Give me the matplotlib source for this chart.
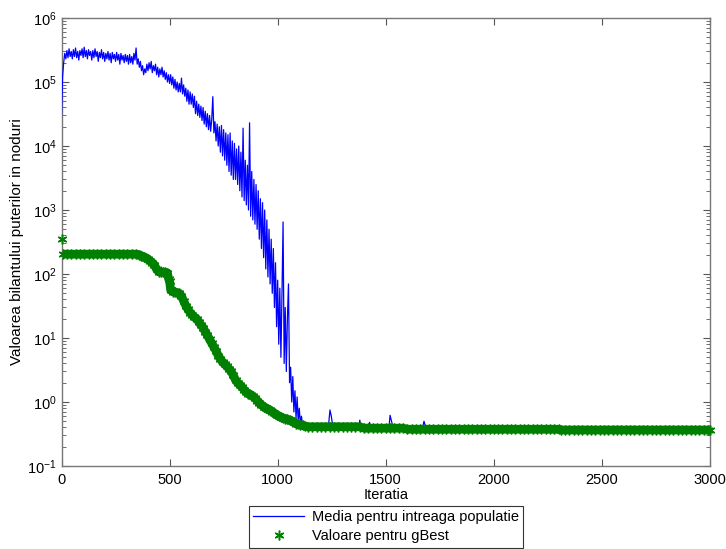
import matplotlib
matplotlib.use("Agg")
import matplotlib.pyplot as plt
from matplotlib.ticker import LogLocator, NullFormatter

plt.rcParams['font.family'] = ['Liberation Sans', 'DejaVu Sans']
plt.rcParams['font.size'] = 10

# Population mean of the power balance, sampled every 5 iterations up to 1125
media_iter = list(range(0, 1130, 5)) + [
    1140, 1200, 1235, 1242, 1248, 1255, 1300, 1375, 1380, 1385, 1420, 1425, 1430,
    1515, 1520, 1530, 1540, 1670, 1677, 1685, 2000, 2500, 3000]
media_val = [
    3.0e4, 1.2e5, 2.0e5, 2.8e5, 2.3e5, 3.1e5, 2.4e5, 3.3e5, 2.5e5, 3.0e5,
    2.3e5, 3.2e5, 2.5e5, 3.4e5, 2.4e5, 3.0e5, 2.2e5, 3.1e5, 2.6e5, 3.3e5,
    2.4e5, 3.5e5, 2.5e5, 3.1e5, 2.3e5, 3.2e5, 2.6e5, 3.0e5, 2.2e5, 3.1e5,
    2.4e5, 3.3e5, 2.5e5, 3.0e5, 2.1e5, 2.9e5, 2.4e5, 3.2e5, 2.3e5, 2.9e5,
    2.1e5, 2.8e5, 2.3e5, 3.0e5, 2.2e5, 2.8e5, 2.0e5, 2.9e5, 2.3e5, 2.7e5,
    2.1e5, 2.9e5, 2.2e5, 2.7e5, 1.9e5, 2.8e5, 2.2e5, 2.6e5, 2.0e5, 2.7e5,
    2.1e5, 2.6e5, 1.9e5, 2.7e5, 2.0e5, 2.5e5, 1.9e5, 2.8e5, 2.2e5, 3.4e5,
    1.9e5, 2.3e5, 1.7e5, 2.1e5, 1.5e5, 1.8e5, 1.3e5, 1.6e5, 1.4e5, 1.9e5,
    1.5e5, 2.0e5, 1.6e5, 2.1e5, 1.4e5, 1.8e5, 1.5e5, 1.9e5, 1.3e5, 1.7e5,
    1.2e5, 1.6e5, 1.3e5, 1.7e5, 1.2e5, 1.5e5, 1.1e5, 1.4e5, 1.0e5, 1.3e5,
    9.5e4, 1.3e5, 9.0e4, 1.2e5, 8.0e4, 1.1e5, 7.5e4, 1.0e5, 7.0e4, 9.5e4,
    7.0e4, 1.15e5, 6.5e4, 9.0e4, 6.0e4, 8.0e4, 5.0e4, 7.5e4, 4.5e4, 7.0e4,
    4.5e4, 6.5e4, 4.0e4, 6.0e4, 3.2e4, 5.0e4, 3.0e4, 4.5e4, 2.8e4, 4.2e4,
    2.5e4, 4.0e4, 2.2e4, 3.5e4, 2.0e4, 3.2e4, 1.8e4, 3.0e4, 1.7e4, 2.6e4,
    5.9e4, 1.6e4, 2.4e4, 1.2e4, 2.2e4, 1.0e4, 2.0e4, 8.0e3, 2.1e4, 7.0e3,
    1.8e4, 6.0e3, 1.6e4, 5.0e3, 1.5e4, 4.0e3, 1.6e4, 3.5e3, 1.2e4, 3.0e3,
    1.1e4, 3.0e3, 9.0e3, 2.5e3, 1.0e4, 2.0e3, 8.0e3, 1.6e3, 1.9e4, 1.4e3,
    6.0e3, 1.2e3, 5.0e3, 1.0e3, 2.3e4, 8.0e2, 4.0e3, 7.0e2, 3.0e3, 6.0e2,
    2.5e3, 5.0e2, 2.0e3, 3.5e2, 1.5e3, 2.5e2, 1.3e3, 1.8e2, 1.0e3, 1.2e2,
    7.0e2, 9.0e1, 5.0e2, 7.0e1, 3.5e2, 5.0e1, 2.5e2, 3.0e1, 1.5e2, 1.5e1,
    8.0e1, 8.0, 6.0e1, 5.0, 5.0e1, 6.5e2, 4.0, 3.0e1, 3.0, 2.0e1,
    7.0e1, 2.0, 3.5, 1.0, 2.5, 0.7, 1.5, 0.55, 1.2, 0.5,
    0.8, 0.46, 0.6, 0.44, 0.5, 0.43,
    0.42, 0.42, 0.42, 0.75, 0.6, 0.42, 0.41, 0.41, 0.52, 0.41, 0.41, 0.48, 0.41,
    0.40, 0.62, 0.45, 0.40, 0.40, 0.50, 0.40, 0.39, 0.385, 0.385]

# Best value found so far (gBest) per iteration
gbest_iter = [0, 8, 25, 45, 65, 85, 105, 125, 145, 165, 185, 205, 225, 245, 265, 285, 305,
              325, 345, 360, 370, 380, 390, 400, 410, 420, 430, 440, 450, 460, 470, 480,
              490, 495, 500, 505, 515, 525, 535, 545, 555, 565, 575, 585, 595, 605, 615,
              625, 635, 645, 655, 665, 675, 685, 695, 705, 715, 725, 735, 745, 755, 765,
              775, 785, 795, 805, 815, 825, 835, 845, 855, 865, 875, 885, 895, 905, 915,
              925, 935, 945, 955, 965, 975, 985, 995, 1005, 1015, 1025, 1035, 1045, 1055,
              1065, 1075, 1085, 1095, 1105, 1115, 1125, 1140,
              1160, 1180, 1200, 1220, 1240, 1260, 1280, 1300, 1320, 1340, 1360, 1380,
              1400, 1420, 1440, 1460, 1480, 1500, 1520, 1540, 1560, 1580,
              1600, 1620, 1640, 1660, 1680, 1700, 1720, 1740, 1760, 1780, 1800, 1820,
              1840, 1860, 1880, 1900, 1920, 1940, 1960, 1980, 2000, 2020, 2040, 2060,
              2080, 2100, 2120, 2140, 2160, 2180, 2200, 2220, 2240, 2260, 2280, 2300,
              2310, 2330, 2350, 2370, 2390, 2410, 2430, 2450, 2470, 2490, 2510, 2530,
              2550, 2570, 2590, 2610, 2630, 2650, 2670, 2690, 2710, 2730, 2750, 2770,
              2790, 2810, 2830, 2850, 2870, 2890, 2910, 2930, 2950, 2970, 2990, 3000]
gbest_val = [350, 204, 204, 204, 204, 204, 204, 204, 204, 204, 204, 204, 204, 204, 204,
             204, 204, 204, 204, 200, 192, 186, 178, 170, 160, 150, 138, 118, 108, 107,
             107, 106, 104, 85, 78, 56, 53, 52, 51, 50, 45, 38, 32, 28, 25, 23, 21, 20,
             18, 16, 14.5, 12.5, 11, 9.5, 8.3, 7.2, 6.3, 5.3, 4.7, 4.2, 3.9, 3.6, 3.3,
             3.0, 2.6, 2.2, 2.0, 1.85, 1.7, 1.55, 1.42, 1.35, 1.3, 1.22, 1.15, 1.05, 0.97,
             0.9, 0.85, 0.8, 0.77, 0.74, 0.71, 0.67, 0.63, 0.6, 0.58, 0.56, 0.55, 0.54,
             0.52, 0.5, 0.48, 0.46, 0.45, 0.44, 0.43, 0.42, 0.41,
             0.41, 0.41, 0.41, 0.41, 0.41, 0.41, 0.41, 0.41, 0.41, 0.41, 0.41, 0.41,
             0.39, 0.39, 0.39, 0.39, 0.39, 0.39, 0.39, 0.39, 0.39, 0.39,
             0.375, 0.375, 0.375, 0.375, 0.375, 0.375, 0.375, 0.375, 0.375, 0.375, 0.375,
             0.375, 0.375, 0.375, 0.375, 0.375, 0.375, 0.375, 0.375, 0.375, 0.375, 0.375,
             0.375, 0.375, 0.375, 0.375, 0.375, 0.375, 0.375, 0.375, 0.375, 0.375, 0.375,
             0.375, 0.375, 0.375,
             0.365, 0.365, 0.365, 0.365, 0.365, 0.365, 0.365, 0.365, 0.365, 0.365, 0.365,
             0.365, 0.365, 0.365, 0.365, 0.365, 0.365, 0.365, 0.365, 0.365, 0.365, 0.365,
             0.365, 0.365, 0.365, 0.365, 0.365, 0.365, 0.365, 0.365, 0.365, 0.365, 0.365,
             0.365, 0.365, 0.365]

x_ticks = [0, 500, 1000, 1500, 2000, 2500, 3000]
GREEN = '#008000'

fig = plt.figure(figsize=(7.26, 5.49), dpi=100)
ax = fig.add_axes([61.5 / 726, 83 / 549, 648.5 / 726, 448 / 549])

ax.plot(media_iter, media_val, color='#0000ff', lw=0.9, zorder=3,
        label='Media pentru intreaga populatie')
# dense run of asterisks merges into a solid band
ax.plot(gbest_iter[1:], gbest_val[1:], color=GREEN, lw=6.3, zorder=4,
        solid_capstyle='butt', solid_joinstyle='round', label='_nolegend_')
ax.plot(gbest_iter, gbest_val, ls='none', marker=(6, 2, 0), ms=7, mew=1.1,
        color=GREEN, clip_on=False, zorder=4, label='Valoare pentru gBest')

ax.set_yscale('log')
ax.set_xlim(0, 3000)
ax.set_ylim(1e-1, 1e6)
ax.set_xticks(x_ticks)
ax.set_xticklabels([str(t) for t in x_ticks])
ax.yaxis.set_major_locator(LogLocator(base=10, numticks=20))
ax.yaxis.set_minor_locator(LogLocator(base=10, subs=range(2, 10), numticks=100))
ax.yaxis.set_minor_formatter(NullFormatter())

for s in ax.spines.values():
    s.set_color('#777777')
    s.set_linewidth(1.0)
ax.tick_params(which='both', direction='in', top=True, right=True, color='#555555',
               labelsize=10.5)
ax.tick_params(which='major', length=5, width=0.8)
ax.tick_params(which='minor', length=3, width=0.6)
ax.tick_params(axis='x', pad=5)

ax.set_xlabel('Iteratia', fontsize=10.5, labelpad=1)
ax.set_ylabel('Valoarea bilantului puterilor in noduri', fontsize=11, labelpad=2)

leg = fig.legend(loc='upper center', bbox_to_anchor=(386 / 726, 1 - 506 / 549),
                 frameon=True, fancybox=False, edgecolor='black', fontsize=10.5,
                 handlelength=3.5, borderpad=0.3, labelspacing=0.35,
                 handletextpad=0.5, borderaxespad=0)
leg.get_frame().set_linewidth(0.8)

fig.savefig('out.png', dpi=100, facecolor='white')
